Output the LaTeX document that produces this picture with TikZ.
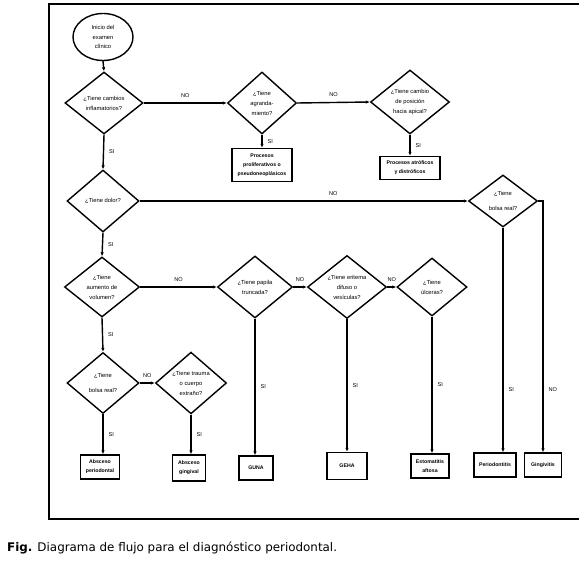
\documentclass[tikz,border=0pt]{standalone}
\usepackage{fontspec}
\setmainfont{Liberation Sans}
\newfontfamily\capfont{DejaVu Sans}
\usetikzlibrary{shapes.geometric,arrows.meta,positioning}

\begin{document}
\begin{tikzpicture}[x=1pt,y=-1pt,
  ini/.style={ellipse,draw,line width=1.4pt,minimum width=60pt,minimum height=47pt,
             inner sep=0pt,align=center,font=\fontsize{5.8}{9.5}\selectfont},
  dec/.style={diamond,draw,line width=1.4pt,inner sep=0pt,align=center,
             font=\fontsize{5.8}{10}\selectfont},
  res/.style={rectangle,draw,line width=1.4pt,inner xsep=2pt,inner ysep=2pt,
             minimum height=24pt,align=center,font=\bfseries\fontsize{5.2}{9}\selectfont},
  arr/.style={-{Latex[length=4pt,width=3.5pt]},line width=1.4pt},
  lbl/.style={font=\fontsize{5.6}{6}\selectfont,inner sep=1pt}
]
\useasboundingbox (0,0) rectangle (579,564);

%--- Frame ---
\draw[line width=1.3pt] (579,4) -- (49,4) -- (49,519) -- (579,519);

% ---- TOP ROW ----
\node[ini] (inicio) at (103,37) {Inicio del\\examen\\clínico};
\node[dec,minimum width=78pt,minimum height=62pt] (infl)  at (104,103) {¿Tiene cambios\\inflamatorios?};
\node[dec,minimum width=69pt,minimum height=62pt] (agr)   at (262,103) {¿Tiene\\agranda-\\miento?};
\node[dec,minimum width=79pt,minimum height=64pt] (apic)  at (410,102) {¿Tiene cambio\\de posición\\hacia apical?};
\node[res,minimum width=60pt,minimum height=33pt] (prol)  at (262,165) {Procesos\\proliferativos o\\pseudoneoplásicos};
\node[res,minimum width=60pt,minimum height=23pt] (atrof) at (410,168) {Procesos atróficos\\y distróficos};

% ---- PAIN / VOLUME ----
\node[dec,minimum width=72pt,minimum height=62pt] (dolor)  at (103,201) {¿Tiene dolor?};
\node[dec,minimum width=69pt,minimum height=52pt] (bolsaR) at (503,201) {¿Tiene\\[5pt]bolsa real?};
\node[dec,minimum width=75pt,minimum height=60pt] (vol)    at (102,287) {¿Tiene\\aumento de\\volumen?};
\node[dec,minimum width=75pt,minimum height=62pt] (pap)    at (255,287) {¿Tiene papila\\truncada?};
\node[dec,minimum width=79pt,minimum height=63pt] (erit)   at (347,287) {¿Tiene eritema\\difuso o\\vesículas?};
\node[dec,minimum width=70pt,minimum height=58pt] (ulc)    at (432,287) {¿Tiene\\úlceras?};
\node[dec,minimum width=72pt,minimum height=61pt] (bolsaI) at (103,383) {¿Tiene\\[5pt]bolsa real?};
\node[dec,minimum width=71pt,minimum height=60pt] (trauma) at (191,383) {¿Tiene trauma\\o cuerpo\\extraño?};

% ---- DIAGNOSES ----
\node[res,minimum width=39pt] (absP)  at (100,467) {Absceso\\periodontal};
\node[res,minimum width=33pt,minimum height=26pt] (absG) at (189,468) {Absceso\\gingival};
\node[res,minimum width=34pt] (guna)  at (256,468) {GUNA};
\node[res,minimum width=40pt,minimum height=27pt] (geha) at (347,466) {GEHA};
\node[res,minimum width=38pt] (estom) at (430,466) {Estomatitis\\aftosa};
\node[res,minimum width=42pt] (perio) at (495,465) {Periodontitis};
\node[res,minimum width=37pt] (ging)  at (543,465) {Gingivitis};

% ---- CONNECTIONS ----
\draw[arr] (inicio.south) -- (infl.north);
\draw[arr] (infl.east) -- node[lbl,above=4pt]{NO} (agr.west);
\draw[arr] (agr.east) -- node[lbl,above=4pt]{NO} (apic.west);
\draw[arr] (agr.south) -- node[lbl,right=4pt]{SI} (prol.north);
\draw[arr] (apic.south) -- node[lbl,right=4pt]{SI} (atrof.north);
\draw[arr] (infl.south) -- node[lbl,right=4pt]{SI} (dolor.north);
\draw[arr] (dolor.east) -- node[lbl,above=4pt,pos=0.59]{NO} (bolsaR.west);
\draw[arr] (bolsaR.south) -- node[lbl,right=4pt,pos=0.72]{SI} (bolsaR.south |- perio.north);
\draw[arr] (bolsaR.east) -| node[lbl,right=4pt,pos=0.875]{NO} (ging.north);
\draw[arr] (dolor.south) -- node[lbl,right=4pt]{SI} (vol.north);
\draw[arr] (vol.east) -- node[lbl,above=4pt]{NO} (pap.west);
\draw[arr] (pap.east) -- node[lbl,above=4pt]{NO} (erit.west);
\draw[arr] (erit.east) -- node[lbl,above=4pt]{NO} (ulc.west);
\draw[arr] (pap.south) -- node[lbl,right=4pt]{SI} (pap.south |- guna.north);
\draw[arr] (erit.south) -- node[lbl,right=4pt]{SI} (geha.north);
\draw[arr] (ulc.south) -- node[lbl,right=4pt]{SI} (ulc.south |- estom.north);
\draw[arr] (vol.south) -- node[lbl,right=4pt]{SI} (bolsaI.north);
\draw[arr] (bolsaI.east) -- node[lbl,above=4pt]{NO} (trauma.west);
\draw[arr] (bolsaI.south) -- node[lbl,right=4pt]{SI} (bolsaI.south |- absP.north);
\draw[arr] (trauma.south) -- node[lbl,right=4pt]{SI} (trauma.south |- absG.north);

% ---- CAPTION ----
\node[anchor=west,inner sep=0pt,font=\capfont\fontsize{11.9}{13}\selectfont] (cap) at (7,548)
  {\textbf{Fig.} Diagrama de flujo para el diagnóstico periodontal.};
\end{tikzpicture}
\end{document}
